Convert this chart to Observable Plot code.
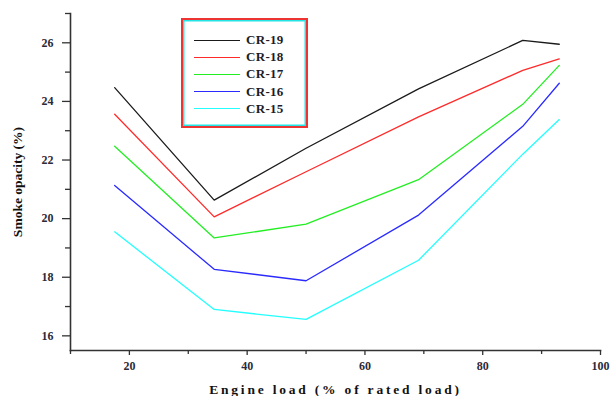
<!DOCTYPE html>
<html>
<head>
<meta charset="utf-8">
<script src="https://cdn.jsdelivr.net/npm/d3@7"></script>
<script src="https://cdn.jsdelivr.net/npm/@observablehq/plot@0.6"></script>
<style>
  html, body { margin: 0; padding: 0; background: #fff; }
  #wrap { position: relative; width: 613px; height: 396px; font-family: "Liberation Serif", "DejaVu Serif", serif; }
  #wrap svg text { font-family: "Liberation Serif", "DejaVu Serif", serif !important; }
  #legend {
    position: absolute; left: 181px; top: 18px; width: 123px; height: 106px;
    border: 2px solid #ee3333; box-shadow: inset 0 0 0 1.5px #22e6e6; background: #fff;
  }
  .row { position: absolute; left: 11px; height: 16px; display: flex; align-items: center; }
  .row .sw { width: 46px; height: 0; border-top: 1.6px solid; margin-right: 6px; }
  .row span { font: bold 13px "Liberation Serif", serif; color: #1c1c28; letter-spacing: 0.3px; }
</style>
</head>
<body>
<div id="wrap"></div>
<script>
// Engine load (% of rated load) at each test point
const loads = [17.5, 34.4, 50, 69.1, 86.8, 93];

// Smoke opacity (%) per compression ratio
const cr19 = [24.47, 20.63, 22.4, 24.43, 26.08, 25.95];
const cr18 = [23.56, 20.06, 21.6, 23.47, 25.06, 25.45];
const cr17 = [22.47, 19.34, 19.81, 21.33, 23.9, 25.23];
const cr16 = [21.13, 18.27, 17.88, 20.12, 23.15, 24.62];
const cr15 = [19.55, 16.9, 16.56, 18.58, 22.2, 23.38];

const seriesNames = ["CR-19", "CR-18", "CR-17", "CR-16", "CR-15"];
const seriesColors = ["#1a1a1a", "#ff2a2a", "#22ee22", "#2a2aff", "#22ffff"];
const xTicks = [20, 40, 60, 80, 100];
const xMinor = [10, 30, 50, 70, 90];
const yTicks = [16, 18, 20, 22, 24, 26];
const yMinor = [17, 19, 21, 23, 25, 27];

const allSeries = [cr19, cr18, cr17, cr16, cr15];
const rows = allSeries.flatMap((vals, i) =>
  vals.map((v, j) => ({series: seriesNames[i], load: loads[j], opacity: v}))
);

const axisColor = "#333";
const serif = "'Liberation Serif', serif";
const chart = Plot.plot({
  width: 613,
  height: 396,
  marginLeft: 70,
  marginRight: 13,
  marginTop: 13,
  marginBottom: 46,
  style: {fontFamily: serif, background: "transparent"},
  x: {domain: [10, 100]},
  y: {domain: [15.5, 27]},
  color: {domain: seriesNames, range: seriesColors},
  marks: [
    Plot.axisX({ticks: xMinor, tickSize: 4, text: null, label: null, stroke: axisColor, strokeWidth: 1.3}),
    Plot.axisX({ticks: xTicks, tickSize: 5, tickPadding: 6, stroke: axisColor, strokeWidth: 1.3,
      fill: "#2a2a3a", fontSize: 12, fontWeight: "bold", fontFamily: serif, letterSpacing: "1px",
      label: "Engine load (% of rated load)", labelAnchor: "center", labelArrow: "none", labelOffset: 43}),
    Plot.axisY({ticks: yMinor, tickSize: 5, text: null, label: null, stroke: axisColor, strokeWidth: 1.3}),
    Plot.axisY({ticks: yTicks, tickSize: 8, tickPadding: 9, stroke: axisColor, strokeWidth: 1.3,
      fill: "#2a2a3a", fontSize: 12, fontWeight: "bold", fontFamily: serif,
      label: "Smoke opacity (%)", labelAnchor: "center", labelArrow: "none", labelOffset: 58}),
    Plot.frame({anchor: "bottom", stroke: axisColor, strokeWidth: 1.6}),
    Plot.frame({anchor: "left", stroke: axisColor, strokeWidth: 1.6}),
    Plot.line(rows, {x: "load", y: "opacity", z: "series", stroke: "series", strokeWidth: 1.3})
  ]
});

// axis titles: bold serif, a little larger than tick labels
chart.querySelectorAll("g[aria-label='x-axis label'] text, g[aria-label='y-axis label'] text").forEach(t => {
  t.setAttribute("font-size", "13.5");
  t.setAttribute("font-weight", "bold");
  t.setAttribute("fill", "#111");
});
chart.querySelectorAll("g[aria-label='x-axis label'] text").forEach(t => t.setAttribute("letter-spacing", "2.8"));

const wrap = document.getElementById("wrap");
wrap.appendChild(chart);

// legend box
const legend = document.createElement("div");
legend.id = "legend";
seriesNames.forEach((name, i) => {
  const r = document.createElement("div");
  r.className = "row";
  r.style.top = (12 + i * 17.2) + "px";
  const sw = document.createElement("div");
  sw.className = "sw";
  sw.style.borderTopColor = seriesColors[i];
  const s = document.createElement("span");
  s.textContent = name;
  r.appendChild(sw);
  r.appendChild(s);
  legend.appendChild(r);
});
wrap.appendChild(legend);
</script>
</body>
</html>
